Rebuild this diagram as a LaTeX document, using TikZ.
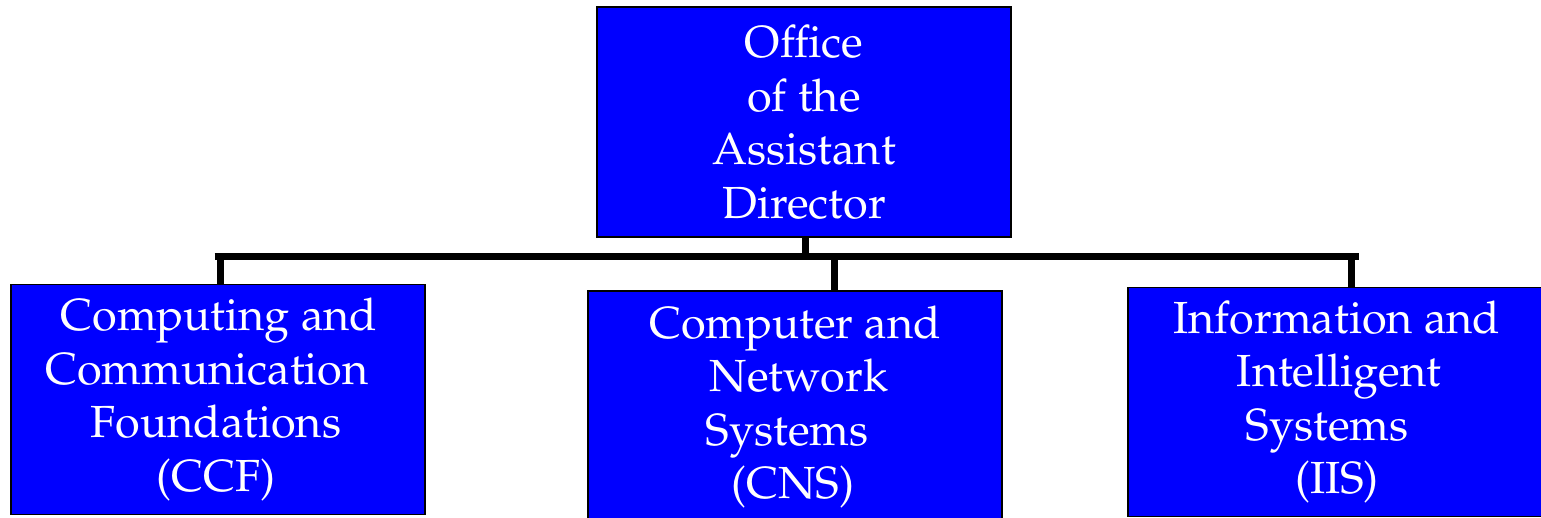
\documentclass[tikz,border=0pt]{standalone}
\usepackage[T1]{fontenc}
\usepackage{palatino}
\newcommand{\padr}[1]{\rule{#1}{0pt}}
\begin{document}
\begin{tikzpicture}[x=1pt,y=-1pt,
  unit/.style={draw=black,line width=1.8pt,fill={rgb,255:red,0;green,0;blue,255},
    text=white,align=center,inner sep=0pt,
    font=\fontsize{45}{53.5}\selectfont},
  link/.style={line width=7pt,draw=black}]
\useasboundingbox (0,0) rectangle (1541,518);
\begin{scope}
\clip (0,0) rectangle (1541,518);
\node[unit,minimum width=414pt,minimum height=230pt] (oad) at (804,122)
  {Office\\of the\\Assistant\\Director};
\node[unit,minimum width=414pt,minimum height=230pt] (ccf) at (218,399.5)
  {\padr{2pt}Computing and\\Communication\padr{22pt}\\Foundations\padr{4pt}\\(CCF)\padr{4pt}};
\node[unit,minimum width=414pt,minimum height=232pt] (cns) at (795,407)
  {Computer and\\\padr{8pt}Network\\Systems\padr{16pt}\\(CNS)\padr{4pt}};
\node[unit,minimum width=418pt,minimum height=229pt] (iis) at (1337,402)
  {Information and\\\padr{4pt}Intelligent\\Systems\padr{20pt}\\(IIS)};
\end{scope}
\coordinate (bl) at (218,256.5);
\coordinate (br) at (1355,256.5);
\draw[link] ([xshift=-3.5pt]bl) -- ([xshift=3.5pt]br);
\draw[link] (oad.south -| 805,0) -- (805,256.5);
\draw[link] (220.5,256.5) -- (220.5,0 |- ccf.north);
\draw[link] (834.5,256.5) -- (834.5,0 |- cns.north);
\draw[link] (1351,256.5) -- (1351,0 |- iis.north);
\end{tikzpicture}
\end{document}
